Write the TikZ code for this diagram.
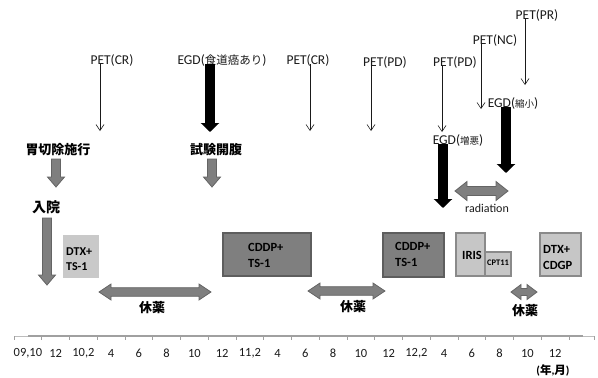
\documentclass[tikz,border=0pt]{standalone}
\usepackage{fontspec}
\setmainfont{Carlito}
\newfontfamily\jp{Noto Sans CJK JP}
\usetikzlibrary{arrows.meta,calc}
\definecolor{txt}{HTML}{1A1A1A}
\definecolor{blkfill}{HTML}{7F7F7F}
\definecolor{blkline}{HTML}{646464}
\definecolor{darkbox}{HTML}{7F7F7F}
\definecolor{darkboxline}{HTML}{5E5E5E}
\definecolor{lightbox}{HTML}{C6C6C6}
\definecolor{lightboxline}{HTML}{8A8A8A}
\definecolor{axisgray}{HTML}{A0A0A0}
\tikzset{
  lbl/.style={inner sep=0pt, text=txt, font=\fontsize{13.5}{15}\selectfont},
  jplbl/.style={inner sep=0pt, text=black, font=\fontsize{13}{15}\selectfont\jp\bfseries},
  axlbl/.style={inner sep=0pt, text=txt, font=\fontsize{12.5}{14}\selectfont},
  thinarr/.style={draw=txt, line width=0.6pt, -{Straight Barb[length=6pt,width=8pt]}},
  thickarr/.style={draw=black, line width=9.5pt, -{Triangle[length=9pt,width=18pt]}},
  blk/.style={fill=blkfill, draw=blkline, line width=0.8pt, line join=miter},
  darkbx/.style={fill=darkbox, draw=darkboxline, line width=1.2pt},
  lightbx/.style={fill=lightbox, draw=lightboxline, line width=1.2pt},
  boxtxt/.style={inner sep=0pt, anchor=west, align=left, text=black,
     font=\fontsize{12.5}{16}\selectfont\bfseries},
}
\newcommand\vblk[3]{\filldraw[blk] (#1-4.5,#2) -- (#1+4.5,#2) -- (#1+4.5,#3-10) -- (#1+8.5,#3-10) -- (#1,#3) -- (#1-8.5,#3-10) -- (#1-4.5,#3-10) -- cycle;}
\newcommand\hblk[6]{\filldraw[blk] (#1,#3) -- (#1+#6,#3-#5) -- (#1+#6,#3-#4) -- (#2-#6,#3-#4) -- (#2-#6,#3-#5) -- (#2,#3) -- (#2-#6,#3+#5) -- (#2-#6,#3+#4) -- (#1+#6,#3+#4) -- (#1+#6,#3+#5) -- cycle;}
\begin{document}
\begin{tikzpicture}[x=1pt,y=-1pt]
\useasboundingbox (0,0) rectangle (598,378);

% ---------- top labels ----------
\node[lbl] (pet1) at (112,60) {PET(CR)};
\node[lbl] (egd1) at (222,60) {EGD({\jp\fontsize{11.5}{13}\selectfont 食道癌あり})};
\node[lbl] (pet2) at (308,60) {PET(CR)};
\node[lbl] (pet3) at (385,62) {PET(PD)};
\node[lbl] (pet4) at (455,62) {PET(PD)};
\node[lbl] (egd2) at (458,140) {EGD({\jp\fontsize{9.5}{11}\selectfont 増悪})};
\node[lbl] (pet5) at (495,40) {PET(NC)};
\node[lbl] (pet6) at (537,15) {PET(PR)};
\node[lbl] (egd3) at (513,103) {EGD({\jp\fontsize{9.5}{11}\selectfont 縮小})};

% thin arrows
\coordinate (t1) at (100,131);
\coordinate (t2) at (310,131);
\coordinate (t3) at (371,131);
\coordinate (t4) at (442,132);
\coordinate (t5) at (481,109);
\coordinate (t6) at (525,85);
\draw[thinarr] ($(pet1.south -| t1)+(0,-2)$) -- (t1);
\draw[thinarr] ($(pet2.south -| t2)+(0,-2)$) -- (t2);
\draw[thinarr] ($(pet3.south -| t3)+(0,-2)$) -- (t3);
\draw[thinarr] ($(pet4.south -| t4)+(0,-2)$) -- (t4);
\draw[thinarr] ($(pet5.south -| t5)+(0,-2)$) -- (t5);
\draw[thinarr] ($(pet6.south -| t6)+(0,-2)$) -- (t6);

% thick black arrows
\coordinate (k1) at (210,132);
\coordinate (k2) at (443,208);
\coordinate (k3) at (506,173);
\draw[thickarr] ($(egd1.south -| k1)+(0,-2)$) -- (k1);
\draw[thickarr] ($(egd2.south -| k2)+(0,-2)$) -- (k2);
\draw[thickarr] ($(egd3.south -| k3)+(0,-2)$) -- (k3);

% ---------- bold Japanese labels and gray arrows ----------
\node[jplbl] (gastr) at (58,150) {胃切除施行};
\node[jplbl] (lap) at (216,150) {試験開腹};
\node[jplbl, font=\fontsize{14}{16}\selectfont\jp\bfseries] (adm) at (46,207) {入院};
\vblk{56}{159}{187}
\vblk{212}{159}{187}
\vblk{47}{218}{285}

% ---------- boxes ----------
\fill[fill=lightbox!95!white] (63,235) rectangle (99,278);
\node[boxtxt, font=\fontsize{12}{15}\selectfont\bfseries] (b1) at (66,259.5) {DTX+\\TS-1};
\draw[darkbx] (223,233) rectangle (311,276);
\node[boxtxt] (b2) at (248,255) {CDDP+\\TS-1};
\draw[darkbx] (383,233) rectangle (444,277);
\node[boxtxt] (b3) at (395,254) {CDDP+\\TS-1};
\draw[lightbx] (456,233) rectangle (485,276);
\node[inner sep=0pt, font=\fontsize{12.5}{14}\selectfont\bfseries] (b4) at (472,255) {IRIS};
\draw[lightbx] (485,252) rectangle (511,276);
\node[inner sep=0pt, font=\fontsize{8.5}{10}\selectfont\bfseries] (b5) at (498,263) {CPT11};
\draw[lightbx] (540,233) rectangle (581,276);
\node[boxtxt] (b6) at (543,257.5) {DTX+\\CDGP};

% ---------- horizontal double arrows ----------
\hblk{99}{211}{292}{4.3}{8}{12}
\hblk{308}{385}{291}{4.3}{8}{12}
\hblk{455}{508}{191}{4.5}{9.5}{12}
\hblk{511}{537}{292}{3.5}{7.5}{10}
\node[jplbl] (r1) at (152,308) {休薬};
\node[jplbl] (r2) at (353,307) {休薬};
\node[jplbl] (r3) at (525,311) {休薬};
\node[lbl, font=\fontsize{12}{14}\selectfont] (rad) at (487,208) {radiation};

% ---------- axis ----------
\draw[axisgray!70!white, line width=0.6pt] (14,336) -- (594,336);
\draw[axisgray, line width=1.8pt] (28,336) -- (583,336);
\foreach \i in {0,...,20} {
  \draw[axisgray, line width=0.6pt] (14+27.75*\i,336) -- (14+27.75*\i,339.5);
}
\draw[axisgray, line width=0.6pt] (594,336) -- (594,339.5);
\foreach \l [count=\i from 0] in {{09,10},12,{10,2},4,6,8,10,12,{11,2},4,6,8,10,12,{12,2},4,6,8,10,12} {
  \node[axlbl] (m\i) at (27.9+27.75*\i,353) {\l};
}
\node[inner sep=0pt, font=\fontsize{11.5}{13}\selectfont\bfseries] (unit) at (553,370) {({\jp 年},{\jp 月})};
\end{tikzpicture}
\end{document}
